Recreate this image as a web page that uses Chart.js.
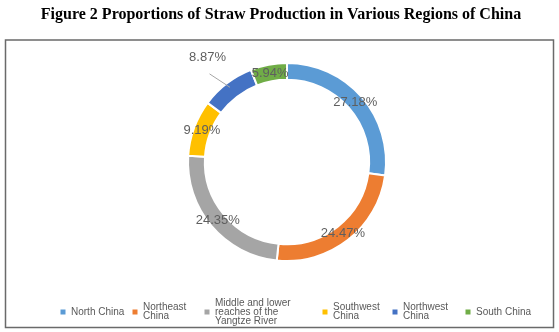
<!DOCTYPE html>
<html><head><meta charset="utf-8">
<script src="https://cdn.jsdelivr.net/npm/chart.js@4.4.0/dist/chart.umd.min.js"></script>
<style>html,body{margin:0;padding:0;background:#fff}#wrap{position:relative;width:559px;height:332px}</style>
</head><body><div id="wrap"><canvas id="c" width="559" height="332"></canvas></div>
<script>
// ---- data ----
const chartTitle = 'Figure 2 Proportions of Straw Production in Various Regions of China';
const categories = ['North China', 'Northeast China', 'Middle and lower reaches of the Yangtze River', 'Southwest China', 'Northwest China', 'South China'];
const legendLines = [['North China'], ['Northeast', 'China'], ['Middle and lower', 'reaches of the', 'Yangtze River'], ['Southwest', 'China'], ['Northwest', 'China'], ['South China']];
const shares = [27.18, 24.47, 24.35, 9.19, 8.87, 5.94];
const valueLabels = ['27.18%', '24.47%', '24.35%', '9.19%', '8.87%', '5.94%'];

// ---- style ----
const colors = ['#5B9BD5', '#ED7D31', '#A5A5A5', '#FFC000', '#4472C4', '#70AD47'];
const legendMarkerX = [63, 135, 207, 325, 395, 468];
const legendY = 312;
const labelRadiusFactor = [0.5, 0.5, 0.5, 0.5, 2.9, 0.5]; // fraction across ring (0 inner,1 outer), >1 outside

const overlay = {
  id: 'overlay',
  afterDraw(chart) {
    const ctx = chart.ctx;
    ctx.save();
    // title
    ctx.fillStyle = '#000';
    ctx.font = 'bold 16px "Liberation Serif", "Times New Roman", serif';
    ctx.textAlign = 'center';
    ctx.textBaseline = 'middle';
    ctx.fillText(chartTitle, 281, 15);
    // frame
    ctx.strokeStyle = '#6a6a6a';
    ctx.lineWidth = 1.5;
    ctx.strokeRect(5.5, 40, 548, 287.5);
    // value labels
    const meta = chart.getDatasetMeta(0);
    ctx.font = '13px "Liberation Sans", Arial, sans-serif';
    ctx.fillStyle = '#5f5f5f';
    meta.data.forEach((arc, i) => {
      const p = arc.getProps(['x', 'y', 'startAngle', 'endAngle', 'innerRadius', 'outerRadius'], true);
      const mid = (p.startAngle + p.endAngle) / 2;
      const r = p.innerRadius + (p.outerRadius - p.innerRadius) * labelRadiusFactor[i];
      const tx = p.x + Math.cos(mid) * r;
      const ty = p.y + Math.sin(mid) * r;
      if (labelRadiusFactor[i] > 1) {
        const rr = p.innerRadius + (p.outerRadius - p.innerRadius) * 0.7;
        ctx.strokeStyle = '#a6a6a6';
        ctx.lineWidth = 1;
        ctx.beginPath();
        ctx.moveTo(tx + 2, ty + 16);
        ctx.lineTo(p.x + Math.cos(mid) * rr, p.y + Math.sin(mid) * rr);
        ctx.stroke();
      }
      ctx.fillText(valueLabels[i], tx, ty);
    });
    // legend
    ctx.font = '10px "Liberation Sans", Arial, sans-serif';
    ctx.textAlign = 'left';
    const lh = 9;
    legendLines.forEach((lines, i) => {
      const mx = legendMarkerX[i];
      ctx.fillStyle = colors[i];
      ctx.fillRect(mx - 2.5, legendY - 2.5, 5, 5);
      ctx.fillStyle = '#595959';
      const y0 = legendY - (lines.length - 1) * lh / 2;
      lines.forEach((t, j) => ctx.fillText(t, mx + 8, y0 + j * lh));
    });
    ctx.restore();
  }
};

new Chart(document.getElementById('c'), {
  type: 'doughnut',
  data: {
    labels: categories,
    datasets: [{
      data: shares,
      backgroundColor: colors,
      borderColor: '#ffffff',
      borderWidth: 2
    }]
  },
  options: {
    responsive: false,
    animation: false,
    devicePixelRatio: 1,
    cutout: '83%',
    layout: { padding: { top: 62, bottom: 70, left: 187, right: 172 } },
    plugins: { legend: { display: false }, tooltip: { enabled: false }, title: { display: false } }
  },
  plugins: [overlay]
});
</script>
</body></html>
